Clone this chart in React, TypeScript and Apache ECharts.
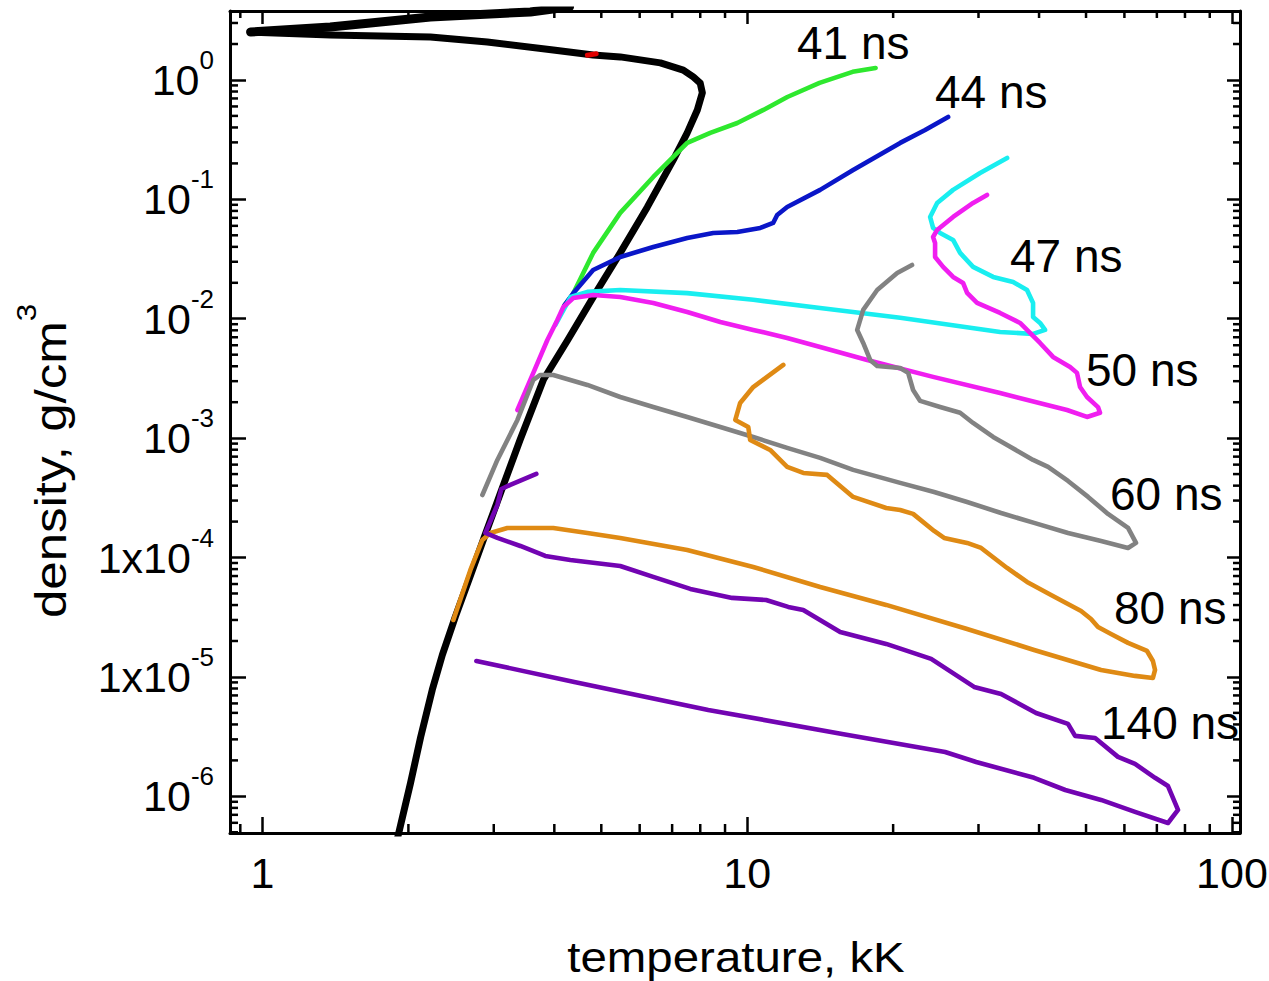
import { useEffect, useRef } from 'react';
import * as echarts from 'echarts';

const FONT = '"Liberation Sans", Arial, Helvetica, sans-serif';

// axis ranges (temperature in kK, density in g/cm^3)
const X_MIN = 0.857;
const X_MAX = 103.9;
const Y_MIN = 4.93e-7;
const Y_MAX = 3.78;

// tick label texts
const xTickLabels = ['1', '10', '100'];
const yTickMantissa: Record<number, string> = { 0: '10', [-1]: '10', [-2]: '10', [-3]: '10', [-4]: '1x10', [-5]: '1x10', [-6]: '10' };

// black boundary curve
const blackLower: [number, number][] = [
  [1.9, 4.5e-7], [2.02, 1.29e-6], [2.12, 3.14e-6], [2.24, 7.8e-6], [2.35, 1.53e-5], [2.5, 3.2e-5],
  [2.69, 7.2e-5], [2.88, 1.55e-4], [3.1, 3.5e-4], [3.4, 9.7e-4], [3.8, 3.1e-3], [4.26, 6.6e-3],
  [4.91, 1.74e-2], [5.47, 3.56e-2], [6.22, 8.6e-2], [7.04, 0.214], [7.52, 0.36], [7.89, 0.56],
  [8.08, 0.78], [8.0, 0.94], [7.74, 1.06], [7.38, 1.21], [6.62, 1.39], [5.47, 1.56], [4.81, 1.62],
  [3.98, 1.78], [2.91, 2.08], [2.22, 2.29], [1.38, 2.38], [0.945, 2.52],
];
const blackUpper: [number, number][] = [
  [0.945, 2.52], [1.38, 2.78], [2.22, 3.37], [3.57, 3.71], [4.3, 4.1],
];
const redMark: [number, number][] = [[4.68, 1.61], [4.88, 1.66]];

// 41 ns
const curve41: [number, number][] = [
  [4.2, 1.3e-2], [4.36, 1.58e-2], [4.81, 3.56e-2], [5.47, 7.7e-2], [6.4, 0.154], [7.52, 0.297],
  [8.39, 0.36], [9.54, 0.436], [10.8, 0.561], [12.1, 0.72], [14.1, 0.944], [16.5, 1.17], [18.4, 1.26],
];
// 44 ns
const curve44: [number, number][] = [
  [4.2, 1.3e-2], [4.38, 1.64e-2], [4.81, 2.56e-2], [5.47, 3.29e-2], [6.4, 3.99e-2], [7.52, 4.75e-2],
  [8.51, 5.23e-2], [9.54, 5.33e-2], [10.64, 5.76e-2], [11.31, 6.34e-2], [11.53, 7.4e-2], [12.09, 8.63e-2],
  [14.14, 0.12], [16.54, 0.176], [20.68, 0.297], [23.28, 0.381], [25.97, 0.49],
];
// 47 ns
const curve47: [number, number][] = [
  [4.02, 8.9e-3], [4.32, 1.52e-2], [4.68, 1.68e-2], [5.47, 1.74e-2], [7.52, 1.64e-2], [10.29, 1.44e-2],
  [14.14, 1.23e-2], [20.68, 1.02e-2], [33.24, 7.75e-3], [38.88, 7.46e-3], [41.16, 8.06e-3], [40.19, 9.22e-3],
  [38.88, 1.035e-2], [38.88, 1.356e-2], [37.78, 1.74e-2], [35.37, 2.03e-2], [32.16, 2.24e-2], [29.24, 2.72e-2],
  [27.49, 3.56e-2], [26.59, 4.57e-2], [25.0, 5.23e-2], [24.18, 5.76e-2], [23.84, 7.12e-2], [24.65, 9.33e-2],
  [26.59, 0.12], [30.23, 0.166], [34.37, 0.222],
];
// 50 ns
const curve50: [number, number][] = [
  [3.357, 1.72e-3], [3.62, 3.52e-3], [3.87, 6.64e-3], [4.058, 9.77e-3], [4.175, 1.256e-2], [4.378, 1.49e-2],
  [4.814, 1.58e-2], [5.47, 1.52e-2], [6.4, 1.356e-2], [7.52, 1.14e-2], [8.8, 9.4e-3], [10.29, 8.06e-3],
  [12.09, 6.91e-3], [14.14, 5.8e-3], [17.68, 4.52e-3], [24.18, 3.26e-3], [33.24, 2.39e-3], [45.68, 1.72e-3],
  [50.23, 1.505e-3], [53.43, 1.63e-3], [52.93, 1.82e-3], [50.23, 2.21e-3], [48.6, 2.68e-3], [47.9, 3.52e-3],
  [46.35, 3.95e-3], [42.75, 4.79e-3], [40.19, 6.27e-3], [38.32, 7.61e-3], [36.55, 9.22e-3], [33.24, 1.118e-2],
  [29.8, 1.356e-2], [28.42, 1.645e-2], [27.88, 1.995e-2], [26.59, 2.24e-2], [25.36, 2.72e-2], [24.41, 3.29e-2],
  [24.41, 4.31e-2], [24.18, 4.84e-2], [24.65, 5.54e-2], [26.59, 7.12e-2], [29.24, 9.33e-2], [31.24, 0.1089],
];
// 60 ns
const curve60: [number, number][] = [
  [2.842, 3.34e-4], [3.052, 6.57e-4], [3.357, 1.42e-3], [3.62, 3.07e-3], [3.743, 3.38e-3], [3.98, 3.38e-3],
  [4.68, 2.79e-3], [5.47, 2.21e-3], [6.4, 1.825e-3], [7.52, 1.505e-3], [8.8, 1.24e-3], [10.29, 1.023e-3],
  [12.09, 8.28e-4], [14.14, 6.83e-4], [16.54, 5.42e-4], [20.68, 4.22e-4], [24.3, 3.54e-4], [28.42, 2.92e-4],
  [33.4, 2.36e-4], [39.07, 1.95e-4], [45.9, 1.607e-4], [53.7, 1.377e-4], [61.04, 1.203e-4], [63.4, 1.326e-4],
  [61.04, 1.77e-4], [55.5, 2.32e-4], [50.5, 3.22e-4], [45.9, 4.38e-4], [41.75, 5.74e-4], [38.88, 6.57e-4],
  [34.37, 8.77e-4], [32.16, 1.023e-3], [29.24, 1.34e-3], [27.49, 1.63e-3], [25.0, 1.825e-3], [22.74, 2.05e-3],
  [21.99, 2.53e-3], [21.48, 3.52e-3], [20.68, 3.87e-3], [18.54, 4.02e-3], [17.93, 4.52e-3], [17.35, 6.27e-3],
  [16.86, 8.06e-3], [17.35, 1.185e-2], [18.54, 1.74e-2], [20.39, 2.42e-2], [21.88, 2.82e-2],
];
// 80 ns
const curve80: [number, number][] = [
  [2.476, 3.0e-5], [2.685, 7.87e-5], [2.842, 1.404e-4], [2.952, 1.607e-4], [3.2, 1.77e-4], [3.98, 1.77e-4],
  [4.68, 1.607e-4], [5.47, 1.46e-4], [7.52, 1.158e-4], [10.29, 8.34e-5], [14.14, 5.67e-5], [19.35, 4.01e-5],
  [28.42, 2.52e-5], [39.07, 1.683e-5], [53.7, 1.144e-5], [63.1, 1.02e-5], [68.7, 9.81e-6], [69.4, 1.144e-5],
  [68.7, 1.36e-5], [66.8, 1.65e-5], [61.04, 1.93e-5], [56.3, 2.29e-5], [52.93, 2.62e-5], [51.2, 3.06e-5],
  [48.84, 3.57e-5], [42.35, 4.86e-5], [37.78, 6.25e-5], [34.37, 8.18e-5], [30.38, 1.203e-4], [28.42, 1.326e-4],
  [25.48, 1.46e-4], [24.3, 1.67e-4], [21.99, 2.32e-4], [20.68, 2.5e-4], [19.35, 2.6e-4], [16.54, 3.22e-4],
  [14.62, 4.92e-4], [13.05, 5.11e-4], [12.09, 5.74e-4], [11.15, 7.96e-4], [10.14, 9.66e-4], [10.05, 1.24e-3],
  [9.45, 1.42e-3], [9.67, 1.97e-3], [10.29, 2.68e-3], [11.87, 4.1e-3],
];
// 140 ns
const curve140: [number, number][] = [
  [3.672, 5.01e-4], [3.245, 4.06e-4], [3.11, 3.75e-4], [3.052, 2.76e-4], [2.883, 1.607e-4], [3.052, 1.46e-4],
  [3.404, 1.25e-4], [3.832, 1.031e-4], [4.315, 9.54e-5], [5.47, 8.5e-5], [6.4, 6.88e-5], [7.63, 5.46e-5],
  [9.31, 4.59e-5], [10.94, 4.41e-5], [12.15, 3.86e-5], [13.05, 3.64e-5], [15.55, 2.38e-5], [19.35, 1.89e-5],
  [23.96, 1.415e-5], [29.38, 8.25e-6], [33.4, 7.2e-6], [39.44, 4.99e-6], [45.9, 4.04e-6], [47.47, 3.21e-6],
  [52.2, 3.08e-6], [58.2, 2.14e-6], [63.1, 1.87e-6], [69.4, 1.43e-6], [73.8, 1.22e-6], [77.4, 7.69e-7],
  [73.8, 5.98e-7], [63.1, 7.4e-7], [53.7, 9.33e-7], [45.3, 1.13e-6], [39.07, 1.43e-6], [29.67, 1.94e-6],
  [25.6, 2.35e-6], [15.7, 3.33e-6], [8.31, 5.29e-6], [4.398, 9.08e-6], [2.762, 1.36e-5],
];

const annotations = [
  { text: '41 ns', x: 797, y: 43 },
  { text: '44 ns', x: 935, y: 92 },
  { text: '47 ns', x: 1010, y: 256 },
  { text: '50 ns', x: 1086, y: 370 },
  { text: '60 ns', x: 1110, y: 494 },
  { text: '80 ns', x: 1114, y: 608 },
  { text: '140 ns', x: 1101, y: 723 },
];

const isPow10 = (v: number) => Math.abs(Math.log10(v) - Math.round(Math.log10(v))) < 1e-6;

const minorValues = (lo: number, hi: number) => {
  const out: number[] = [];
  for (let e = -8; e <= 3; e++) {
    for (let m = 2; m <= 9; m++) {
      const v = m * Math.pow(10, e);
      if (v > lo && v < hi) out.push(v);
    }
  }
  return out;
};

export default function App() {
  const ref = useRef<HTMLDivElement>(null);
  useEffect(() => {
    const chart = echarts.init(ref.current as HTMLDivElement, null, { renderer: 'svg' });
    const axisLine = { show: true, onZero: false, lineStyle: { color: '#000', width: 3 } };
    const tickStyle = { color: '#000', width: 2.5 };
    const xMinor = minorValues(X_MIN, X_MAX);
    const yMinor = minorValues(Y_MIN, Y_MAX);

    const line = (name: string, data: [number, number][], color: string, width = 4.6, z = 3) => ({
      name,
      type: 'line',
      data,
      showSymbol: false,
      symbol: 'none',
      silent: true,
      z,
      lineStyle: { color, width, cap: 'round', join: 'round' },
      itemStyle: { color },
    });

    const option: any = {
      animation: false,
      backgroundColor: '#fff',
      grid: { left: 230, top: 11, width: 1010, height: 822, containLabel: false, outerBoundsMode: 'none' },
      xAxis: [
        {
          type: 'log', logBase: 10, min: X_MIN, max: X_MAX, position: 'bottom',
          splitLine: { show: false }, axisLine,
          axisTick: { inside: true, length: 16, lineStyle: tickStyle },
          axisLabel: {
            margin: 18, color: '#000', fontSize: 43, fontFamily: FONT,
            formatter: (v: number) => (isPow10(v) ? xTickLabels[Math.round(Math.log10(v))] ?? '' : ''),
          },
        },
        {
          type: 'log', logBase: 10, min: X_MIN, max: X_MAX, position: 'top',
          splitLine: { show: false }, axisLine,
          axisTick: { inside: true, length: 13, lineStyle: tickStyle },
          axisLabel: { show: false },
        },
      ],
      yAxis: [
        {
          type: 'log', logBase: 10, min: Y_MIN, max: Y_MAX, position: 'left',
          splitLine: { show: false }, axisLine,
          axisTick: { inside: true, length: 16, lineStyle: tickStyle },
          axisLabel: {
            margin: 16, color: '#000', fontFamily: FONT,
            formatter: (v: number) => {
              if (!isPow10(v)) return '';
              const e = Math.round(Math.log10(v));
              const m = yTickMantissa[e];
              if (m === undefined) return '';
              return `{b|${m}}{s|${e}}`;
            },
            rich: {
              b: { fontSize: 43, lineHeight: 66, fontFamily: FONT, color: '#000' },
              s: { fontSize: 26, lineHeight: 26, verticalAlign: 'top', fontFamily: FONT, color: '#000' },
            },
          },
        },
        {
          type: 'log', logBase: 10, min: Y_MIN, max: Y_MAX, position: 'right',
          splitLine: { show: false }, axisLine,
          axisTick: { inside: true, length: 13, lineStyle: tickStyle },
          axisLabel: { show: false },
        },
      ],
      series: [
        line('boundary', blackLower, '#000', 7, 2),
        line('boundary upper', blackUpper, '#000', 9, 2),
        line('mark', redMark, '#e00000', 5, 2),
        line('41 ns', curve41, '#2ee82e'),
        line('44 ns', curve44, '#0a16c8'),
        line('47 ns', curve47, '#19eef0'),
        line('50 ns', curve50, '#f01ef0'),
        line('60 ns', curve60, '#828282'),
        line('80 ns', curve80, '#df8a14'),
        line('140 ns', curve140, '#7204b2'),
        {
          type: 'custom',
          silent: true,
          z: 10,
          clip: false,
          data: [[1, 1e-3]],
          renderItem: (params: any, api: any) => {
            const cs = params.coordSys;
            const left = cs.x, top = cs.y, right = cs.x + cs.width, bottom = cs.y + cs.height;
            const style = { stroke: '#000', lineWidth: 2.5 };
            const children: any[] = [];
            xMinor.forEach((v) => {
              const px = api.coord([v, 1e-3])[0];
              children.push({ type: 'line', shape: { x1: px, y1: bottom, x2: px, y2: bottom - 9 }, style });
              children.push({ type: 'line', shape: { x1: px, y1: top, x2: px, y2: top + 7 }, style });
            });
            yMinor.forEach((v) => {
              const py = api.coord([1, v])[1];
              children.push({ type: 'line', shape: { x1: left, y1: py, x2: left + 8, y2: py }, style });
              children.push({ type: 'line', shape: { x1: right, y1: py, x2: right - 7, y2: py }, style });
            });
            return { type: 'group', children };
          },
        },
      ],
      graphic: [
        {
          type: 'text', x: 736, y: 957, scaleX: 1.13, z: 100,
          style: {
            text: 'temperature, kK', fill: '#000', font: `42px ${FONT}`,
            align: 'center', textAlign: 'center', verticalAlign: 'middle', textVerticalAlign: 'middle',
          },
        },
        {
          type: 'text', x: 51, y: 461, rotation: Math.PI / 2, scaleX: 1.16, z: 100,
          style: {
            text: '{b|density, g/cm}{s|3}', fill: '#000',
            align: 'center', textAlign: 'center', verticalAlign: 'middle', textVerticalAlign: 'middle',
            rich: {
              b: { fontSize: 44, lineHeight: 76, fontFamily: FONT, fill: '#000' },
              s: { fontSize: 27, lineHeight: 27, verticalAlign: 'top', fontFamily: FONT, fill: '#000' },
            },
          },
        },
        ...annotations.map((a) => ({
          type: 'text', x: a.x, y: a.y, z: 100,
          style: {
            text: a.text, fill: '#000', font: `46px ${FONT}`,
            align: 'left', textAlign: 'left', verticalAlign: 'middle', textVerticalAlign: 'middle',
          },
        })),
      ],
    };
    chart.setOption(option);
    return () => chart.dispose();
  }, []);
  return (
    <div
      ref={ref}
      style={{ position: 'fixed', left: 0, top: 0, width: 1269, height: 981, background: '#fff' }}
    />
  );
}
